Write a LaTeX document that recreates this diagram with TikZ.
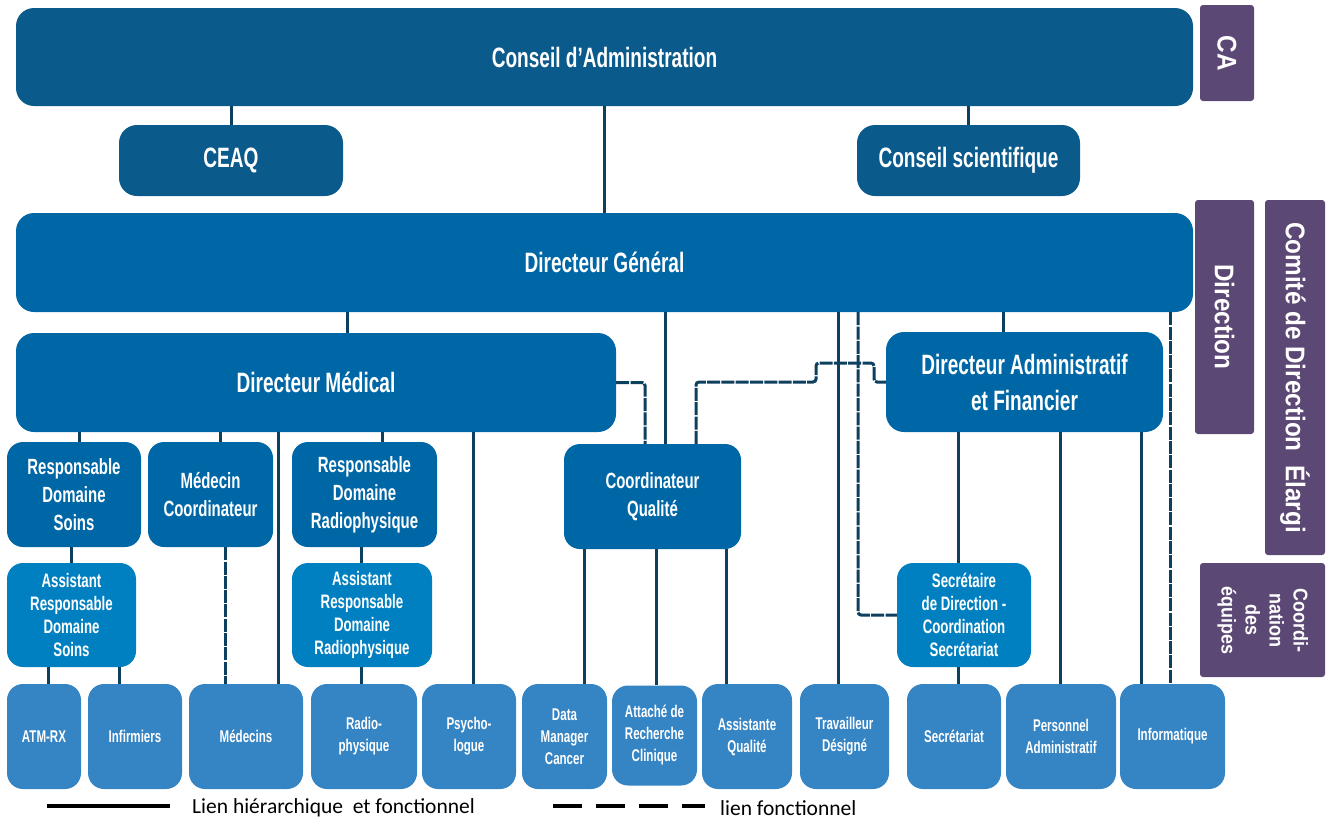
\documentclass[tikz,border=0pt]{standalone}
\usepackage{fontspec}
\newfontfamily\agency{Liberation Sans}[FakeStretch=0.68]
\newfontfamily\narrowb{Liberation Sans}[FakeStretch=0.9]
\newfontfamily\calib{Carlito}
\definecolor{cDark}{HTML}{0B5A8C}
\definecolor{cMid}{HTML}{0067A7}
\definecolor{cAsst}{HTML}{0080C0}
\definecolor{cLight}{HTML}{3584C4}
\definecolor{cPurple}{HTML}{5C4874}
\definecolor{cLine}{HTML}{0D3F5E}
\tikzset{
  basebox/.style={rounded corners=16, inner sep=0pt, align=center, text=white},
  bigbox/.style={basebox, rounded corners=18, font=\agency\bfseries\fontsize{28}{36}\selectfont},
  midbox/.style={basebox, fill=cMid, font=\agency\bfseries\fontsize{22}{28}\selectfont},
  asstbox/.style={basebox, fill=cAsst, font=\agency\bfseries\fontsize{19.5}{23}\selectfont},
  lowbox/.style={basebox, fill=cLight, minimum height=105, font=\agency\bfseries\fontsize{17}{22}\selectfont},
  sidebox/.style={rounded corners=3, fill=cPurple, inner sep=0pt, align=center, text=white, font=\narrowb\bfseries\fontsize{27}{30}\selectfont},
  conn/.style={draw=cLine, line width=3pt},
  dconn/.style={draw=cLine, line width=3pt, dash pattern=on 13pt off 1.3pt, rounded corners=3},
  legtext/.style={font=\calib\fontsize{21.5}{24}\selectfont, anchor=west, inner sep=0pt}
}
\begin{document}
\begin{tikzpicture}[x=1pt,y=-1pt]
\useasboundingbox (0,0) rectangle (1332,823);
% x positions of connectors
\foreach \n/\v in {x48/48,x71/71,x79/79,x119/119,x220/220,x225/225,x278/278,x347/347,x361/361,x382/382,x473/473,x584/584,x645/645,x656/656,x665/665,x696/696,x726/726,x838/838,x858/858,x958/958,x1003/1003,x1060/1060,x1141/1141,x1170/1170}
  {\coordinate (\n) at (\v,0);}
\coordinate (j1) at (816,363);
\coordinate (j2) at (874,363);

% top level
\node[bigbox, fill=cDark, minimum width=1177, minimum height=98] (ca) at (604.5,57) {Conseil d’Administration};
\node[bigbox, fill=cDark, minimum width=224, minimum height=71] (ceaq) at (231,160.5) {CEAQ};
\node[bigbox, fill=cDark, minimum width=223, minimum height=71] (cs) at (968.5,160.5) {Conseil scientifique};
\node[bigbox, fill=cMid, minimum width=1177, minimum height=99] (dg) at (604.5,262.5) {Directeur Général};
\node[bigbox, fill=cMid, minimum width=600, minimum height=99] (dm) at (316,382.5) {Directeur Médical};
\node[bigbox, fill=cMid, minimum width=277, minimum height=100] (daf) at (1024.5,382) {Directeur Administratif\\et Financier};

% middle level
\node[midbox, minimum width=134, minimum height=105] (rds) at (74,494.5) {Responsable\\Domaine\\Soins};
\node[midbox, minimum width=125, minimum height=105] (mc) at (210.5,494.5) {Médecin\\Coordinateur};
\node[midbox, minimum width=145, minimum height=105] (rdr) at (364.5,494.5) {Responsable\\Domaine\\Radiophysique};
\node[midbox, minimum width=177, minimum height=105] (cq) at (652.5,496.5) {Coordinateur\\Qualité};

\node[asstbox, minimum width=129, minimum height=104] (ards) at (71.5,615) {Assistant\\Responsable\\Domaine\\Soins};
\node[asstbox, minimum width=140, minimum height=104] (ardr) at (362,615) {Assistant\\Responsable\\Domaine\\Radiophysique};
\node[asstbox, minimum width=134, minimum height=104] (sec) at (964,615) {Secrétaire\\de Direction -\\Coordination\\Secrétariat};

% bottom row
\node[lowbox, minimum width=74] (atm) at (44,736.5) {ATM-RX};
\node[lowbox, minimum width=94] (inf) at (135,736.5) {Infirmiers};
\node[lowbox, minimum width=114] (med) at (246,736.5) {Médecins};
\node[lowbox, minimum width=106] (rad) at (364,736.5) {Radio-\\physique};
\node[lowbox, minimum width=94] (psy) at (469,736.5) {Psycho-\\logue};
\node[lowbox, minimum width=85] (data) at (564.5,736.5) {Data\\Manager\\Cancer};
\node[lowbox, minimum width=85, minimum height=100] (att) at (654.5,735.5) {Attaché de\\Recherche\\Clinique};
\node[lowbox, minimum width=90] (aq) at (747,736.5) {Assistante\\Qualité};
\node[lowbox, minimum width=89] (trav) at (844.5,736.5) {Travailleur\\Désigné};
\node[lowbox, minimum width=94] (secr) at (954,736.5) {Secrétariat};
\node[lowbox, minimum width=110] (pers) at (1061,736.5) {Personnel\\Administratif};
\node[lowbox, minimum width=105] (info) at (1172.5,736.5) {Informatique};

% side labels
\node[sidebox, minimum width=54, minimum height=96] (lca) at (1227,53) {\rotatebox{-90}{CA}};
\node[sidebox, minimum width=59, minimum height=234] (ldir) at (1224.5,317) {\rotatebox{-90}{Direction}};
\node[sidebox, minimum width=60, minimum height=355] (lcde) at (1295,377.5) {\rotatebox{-90}{Comité de Direction\ \ Élargi}};
\node[sidebox, minimum width=125, minimum height=114, font=\narrowb\bfseries\fontsize{20}{24}\selectfont] (lcoord) at (1262.5,620) {\rotatebox{-90}{\begin{tabular}{@{}c@{}}Coordi-\\nation\\des\\équipes\end{tabular}}};

% solid connectors
\draw[conn] (ca.south -| ceaq) -- (ceaq.north);
\draw[conn] (ca.south -| cs) -- (cs.north);
\draw[conn] (ca.south) -- (dg.north);
\draw[conn] (dg.south -| x347) -- (dm.north -| x347);
\draw[conn] (dg.south -| x665) -- (cq.north -| x665);
\draw[conn] (dg.south -| x838) -- (trav.north -| x838);
\draw[conn] (dg.south -| x1003) -- (daf.north -| x1003);
\draw[conn] (dm.south -| x79) -- (rds.north -| x79);
\draw[conn] (dm.south -| x220) -- (mc.north -| x220);
\draw[conn] (dm.south -| x278) -- (med.north -| x278);
\draw[conn] (dm.south -| x382) -- (rdr.north -| x382);
\draw[conn] (dm.south -| x473) -- (psy.north -| x473);
\draw[conn] (rds.south -| x71) -- (ards.north -| x71);
\draw[conn] (rdr.south -| x361) -- (ardr.north -| x361);
\draw[conn] (ards.south -| x48) -- (atm.north -| x48);
\draw[conn] (ards.south -| x119) -- (inf.north -| x119);
\draw[conn] (ardr.south -| x361) -- (rad.north -| x361);
\draw[conn] (cq.south -| x584) -- (data.north -| x584);
\draw[conn] (cq.south -| x656) -- (att.north -| x656);
\draw[conn] (cq.south -| x726) -- (aq.north -| x726);
\draw[conn] (daf.south -| x958) -- (sec.north -| x958);
\draw[conn] (sec.south -| x958) -- (secr.north -| x958);
\draw[conn] (daf.south -| x1060) -- (pers.north -| x1060);
\draw[conn] (daf.south -| x1141) -- (info.north -| x1141);

% dashed connectors
\draw[dconn] (mc.south -| x225) -- (med.north -| x225);
\draw[dconn] (dm.east) -- (dm.east -| x645) -- (cq.north -| x645);
\draw[dconn] (cq.north -| x696) -- (x696 |- daf.west) -- (j1 |- daf.west) -- (j1) -- (j2) -- (j2 |- daf.west) -- (daf.west);
\draw[dconn] (dg.south -| x858) -- (x858 |- sec.west) -- (sec.west);
\draw[dconn] (dg.south -| x1170) -- (info.north -| x1170);

% legend
\coordinate (l1a) at (47,806);
\coordinate (l1b) at (170,806);
\coordinate (l2a) at (553,806);
\coordinate (l2b) at (705,806);
\draw[line width=4pt] (l1a) -- (l1b);
\node[legtext] (lt1) at (192,808) {Lien hiérarchique\ \ et fonctionnel};
\draw[line width=4pt, dash pattern=on 29pt off 14pt] (l2a) -- (l2b);
\node[legtext] (lt2) at (720,808) {lien fonctionnel};
\end{tikzpicture}
\end{document}
